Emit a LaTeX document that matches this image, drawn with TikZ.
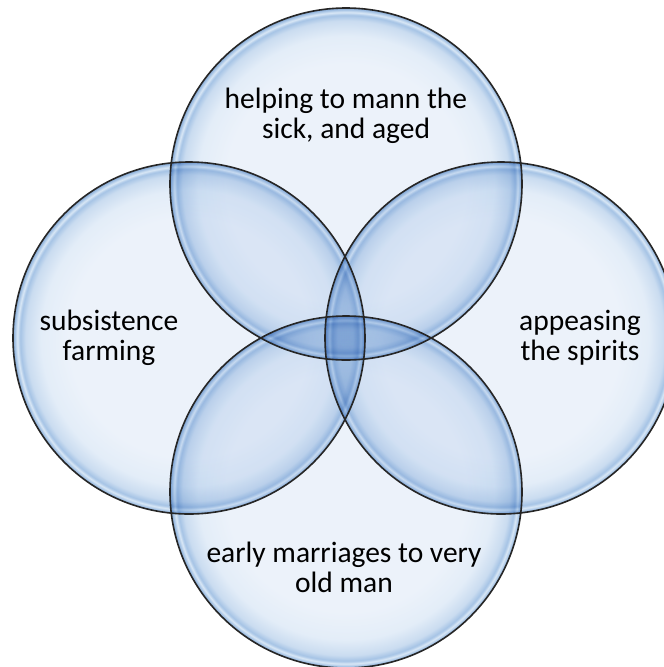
\documentclass[tikz,border=0pt]{standalone}
\usepackage{fontspec}
\setmainfont{Carlito}
\definecolor{bpale}{HTML}{ECF2FA}
\definecolor{bpale2}{HTML}{E3EDF8}
\definecolor{bmid}{HTML}{CADCF0}
\definecolor{bband}{HTML}{A5C3E5}
\definecolor{bhi}{HTML}{DAE8F6}
\definecolor{bedge}{HTML}{86A9D3}
\pgfdeclareradialshading{bubble}{\pgfpoint{0bp}{0bp}}{%
  color(0bp)=(bpale); color(17bp)=(bpale); color(21bp)=(bpale2);
  color(23.2bp)=(bmid); color(24bp)=(bband); color(24.4bp)=(bhi);
  color(24.75bp)=(bband); color(25bp)=(bedge); color(50bp)=(bedge)}
\tikzset{
  bub/.style={shading=bubble},
  rim/.style={draw=black!85, line width=1.6pt},
  lbl/.style={font=\fontsize{29.5}{30}\selectfont, align=center, text=black}
}
\begin{document}
\begin{tikzpicture}[x=1pt,y=-1pt]
\useasboundingbox (0,0) rectangle (664,667);
\clip (0,0) rectangle (664,667);
\fill[white] (0,0) rectangle (664,667);
\begin{scope}[blend group=multiply]
  \shade[bub] (346,184) circle (176);
  \shade[bub] (189,338) circle (176);
  \shade[bub] (501,338) circle (176);
  \shade[bub] (346,492) circle (176);
\end{scope}
\node[circle, minimum size=352pt, rim] (top) at (346,184) {};
\node[circle, minimum size=352pt, rim] (left) at (189,338) {};
\node[circle, minimum size=352pt, rim] (right) at (501,338) {};
\node[circle, minimum size=352pt, rim] (bot) at (346,492) {};
\node[lbl] (ttop) at (346,116) {helping to mann the\\sick, and aged};
\node[lbl] (tleft) at (109,338) {subsistence\\farming};
\node[lbl] (tright) at (580,338) {appeasing\\the spirits};
\node[lbl] (tbot) at (344,567) {early marriages to very\\old man};
\end{tikzpicture}
\end{document}
